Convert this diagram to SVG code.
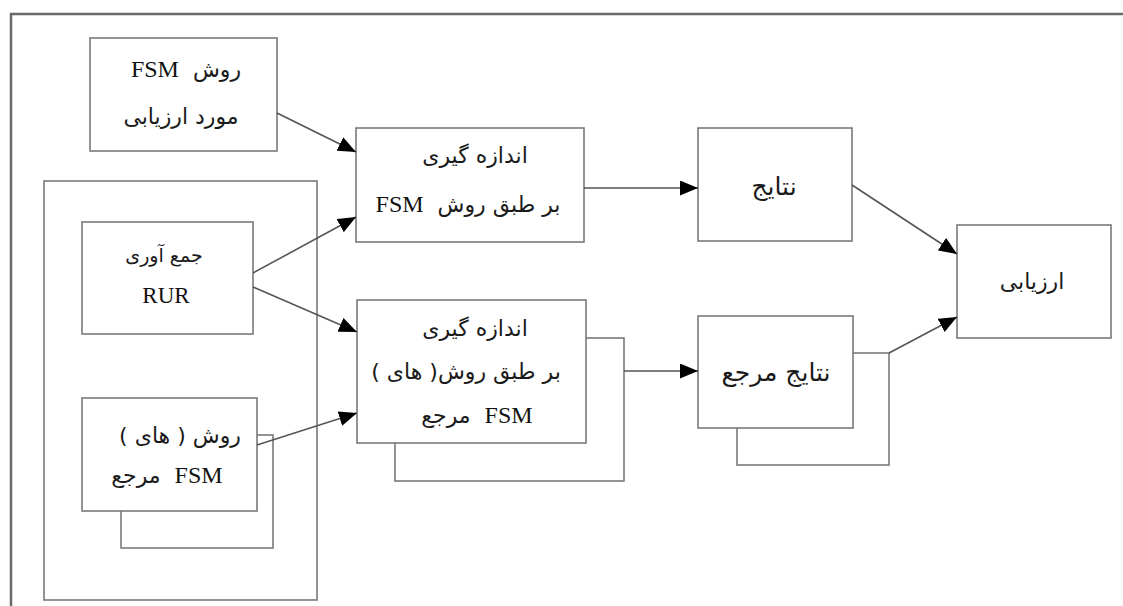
<svg xmlns="http://www.w3.org/2000/svg" width="1123" height="606" viewBox="0 0 1123 606">
  <defs>
    <style>
      .frame { fill: none; stroke: #6a6a6a; stroke-width: 2.5; }
      .box { fill: #ffffff; stroke: #7a7a7a; stroke-width: 1.6; }
      .wire { fill: none; stroke: #555555; stroke-width: 1.6; }
      .fa { font-family: "DejaVu Sans", sans-serif; font-size: 22px; fill: #1a1a1a; direction: rtl; text-anchor: middle; }
      .lat { font-family: "Liberation Serif", serif; font-size: 24px; fill: #111111; }
      .en { font-family: "Liberation Serif", serif; font-size: 23px; fill: #111111; text-anchor: middle; }
    </style>
    <marker id="arrow" markerWidth="18" markerHeight="15" refX="18" refY="7.5" orient="auto" markerUnits="userSpaceOnUse">
      <path d="M0,0 L18,7.5 L0,15 Z" fill="#000000"/>
    </marker>
  </defs>

  <rect width="1123" height="606" fill="#ffffff"/>

  <!-- outer page frame (open on right and bottom) -->
  <path class="frame" d="M11,606 V14 H1123"/>

  <!-- container holding the reference inputs -->
  <rect class="box" x="44" y="181" width="273" height="419" fill="none"/>

  <g id="node-fsm-eval">
    <rect class="box" x="90" y="38" width="187" height="113"/>
    <text class="fa" x="186" y="77" xml:space="preserve">روش  <tspan class="lat">FSM</tspan></text>
    <text class="fa" x="181" y="124">مورد ارزیابی</text>
  </g>

  <g id="node-rur">
    <rect class="box" x="82" y="222" width="171" height="112"/>
    <text class="fa" x="164" y="262" style="font-size:19px">جمع آوری</text>
    <text class="en" x="166" y="303">RUR</text>
  </g>

  <g id="node-ref-fsm">
    <rect class="box" x="121" y="435" width="152" height="113"/>
    <rect class="box" x="82" y="398" width="175" height="113"/>
    <text class="fa" x="180" y="443" xml:space="preserve">روش ( های )</text>
    <text class="fa" x="167" y="483" xml:space="preserve"><tspan class="lat">FSM</tspan>  مرجع</text>
  </g>

  <g id="node-measure">
    <rect class="box" x="356" y="128" width="228" height="114"/>
    <text class="fa" x="475" y="163">اندازه گیری</text>
    <text class="fa" x="468" y="212" xml:space="preserve">بر طبق روش  <tspan class="lat">FSM</tspan></text>
  </g>

  <g id="node-measure-ref">
    <rect class="box" x="395" y="338" width="229" height="143"/>
    <rect class="box" x="357" y="300" width="229" height="143"/>
    <text class="fa" x="475" y="336">اندازه گیری</text>
    <text class="fa" x="466" y="379" xml:space="preserve">بر طبق روش( های )</text>
    <text class="fa" x="477" y="423" xml:space="preserve"><tspan class="lat">FSM</tspan>  مرجع</text>
  </g>

  <g id="node-results">
    <rect class="box" x="698" y="128" width="154" height="113"/>
    <text class="fa" x="774" y="195" style="font-size:25px">نتایج</text>
  </g>

  <g id="node-results-ref">
    <rect class="box" x="737" y="353" width="152" height="112"/>
    <rect class="box" x="698" y="316" width="155" height="112"/>
    <text class="fa" x="776" y="381" style="font-size:25px">نتایج مرجع</text>
  </g>

  <g id="node-evaluation">
    <rect class="box" x="957" y="225" width="154" height="113"/>
    <text class="fa" x="1032" y="289">ارزیابی</text>
  </g>

  <g id="connectors">
    <line class="wire" x1="277" y1="113" x2="356" y2="152" marker-end="url(#arrow)"/>
    <line class="wire" x1="253" y1="273" x2="356" y2="217" marker-end="url(#arrow)"/>
    <line class="wire" x1="253" y1="287" x2="357" y2="332" marker-end="url(#arrow)"/>
    <line class="wire" x1="257" y1="445" x2="357" y2="413" marker-end="url(#arrow)"/>
    <line class="wire" x1="584" y1="188" x2="698" y2="188" marker-end="url(#arrow)"/>
    <line class="wire" x1="624" y1="371" x2="698" y2="371" marker-end="url(#arrow)"/>
    <line class="wire" x1="852" y1="185" x2="957" y2="254" marker-end="url(#arrow)"/>
    <line class="wire" x1="889" y1="353" x2="957" y2="317" marker-end="url(#arrow)"/>
  </g>
</svg>
